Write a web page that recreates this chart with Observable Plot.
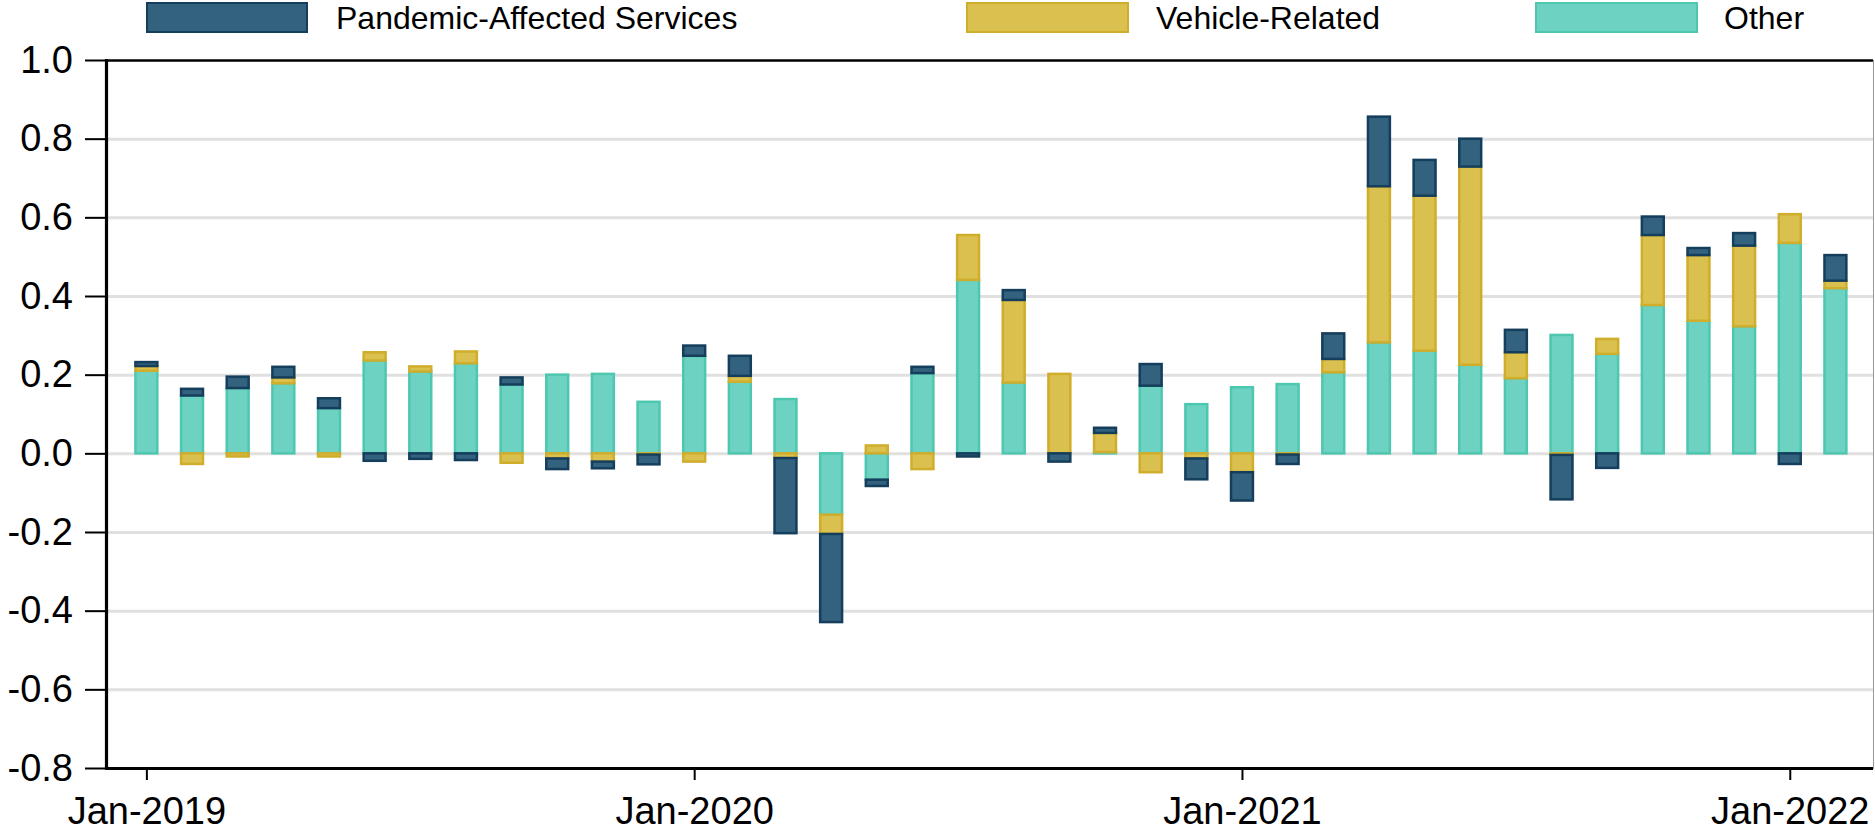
<!DOCTYPE html>
<html>
<head>
<meta charset="utf-8">
<script src="https://cdn.jsdelivr.net/npm/d3@7"></script>
<script src="https://cdn.jsdelivr.net/npm/@observablehq/plot@0.6"></script>
<style>
  html, body { margin: 0; padding: 0; background: #fff; }
  #wrap { position: relative; width: 1875px; height: 829px; font-family: "Liberation Sans", Arial, sans-serif; }
  #legend { position: relative; width: 1875px; height: 40px; }
  .sw { position: absolute; top: 2px; height: 31px; box-sizing: border-box; border: 2.5px solid; }
  .lt { position: absolute; top: 2px; font-size: 32px; line-height: 32px; color: #000; white-space: nowrap; }
  #chart svg { display: block; }
</style>
</head>
<body>
<div id="wrap">
  <div id="legend"></div>
  <div id="chart"></div>
</div>
<script>
const months = [
  "Jan-2019","Feb-2019","Mar-2019","Apr-2019","May-2019","Jun-2019","Jul-2019","Aug-2019","Sep-2019","Oct-2019","Nov-2019","Dec-2019",
  "Jan-2020","Feb-2020","Mar-2020","Apr-2020","May-2020","Jun-2020","Jul-2020","Aug-2020","Sep-2020","Oct-2020","Nov-2020","Dec-2020",
  "Jan-2021","Feb-2021","Mar-2021","Apr-2021","May-2021","Jun-2021","Jul-2021","Aug-2021","Sep-2021","Oct-2021","Nov-2021","Dec-2021",
  "Jan-2022","Feb-2022"
];
const other = [
  0.210, 0.147, 0.166, 0.178, 0.115, 0.236, 0.208, 0.229, 0.175, 0.200, 0.202, 0.131,
  0.248, 0.182, 0.138, -0.156, -0.067, 0.204, 0.441, 0.180, 0.000, 0.003, 0.172, 0.125,
  0.168, 0.176, 0.206, 0.282, 0.261, 0.225, 0.191, 0.301, 0.253, 0.377, 0.337, 0.323,
  0.535, 0.420
];
const vehicle = [
  0.012, -0.027, -0.008, 0.015, -0.008, 0.021, 0.013, 0.030, -0.024, -0.013, -0.021, -0.003,
  -0.021, 0.015, -0.012, -0.049, 0.020, -0.040, 0.114, 0.210, 0.202, 0.049, -0.048, -0.013,
  -0.048, -0.003, 0.034, 0.397, 0.394, 0.504, 0.066, -0.004, 0.038, 0.178, 0.167, 0.205,
  0.073, 0.019
];
const pandemic = [
  0.010, 0.017, 0.029, 0.027, 0.025, -0.019, -0.014, -0.017, 0.018, -0.027, -0.017, -0.025,
  0.026, 0.051, -0.191, -0.224, -0.016, 0.016, -0.008, 0.025, -0.021, 0.013, 0.055, -0.053,
  -0.072, -0.024, 0.065, 0.177, 0.091, 0.071, 0.057, -0.113, -0.037, 0.047, 0.018, 0.032,
  -0.027, 0.065
];
const seriesNames = ["Other", "Vehicle-Related", "Pandemic-Affected Services"];
const legendOrder = ["Pandemic-Affected Services", "Vehicle-Related", "Other"];
const fills = {"Pandemic-Affected Services": "#33627f", "Vehicle-Related": "#dac04f", "Other": "#6dd2c1"};
const strokes = {"Pandemic-Affected Services": "#143e5c", "Vehicle-Related": "#d0ad2a", "Other": "#4ec7b1"};
const xTicks = ["Jan-2019", "Jan-2020", "Jan-2021", "Jan-2022"];
const yTicks = [-0.8, -0.6, -0.4, -0.2, 0.0, 0.2, 0.4, 0.6, 0.8, 1.0];
const gridTicks = [-0.6, -0.4, -0.2, 0.0, 0.2, 0.4, 0.6, 0.8];

const seriesValues = {"Other": other, "Vehicle-Related": vehicle, "Pandemic-Affected Services": pandemic};
const rows = [];
months.forEach((m, i) => {
  for (const s of seriesNames) rows.push({month: m, series: s, value: seriesValues[s][i]});
});

// legend
const legendPos = {
  "Pandemic-Affected Services": {sw: 146, w: 162, tx: 336},
  "Vehicle-Related": {sw: 966, w: 163, tx: 1156},
  "Other": {sw: 1535, w: 163, tx: 1724}
};
const legend = document.getElementById("legend");
for (const s of legendOrder) {
  const p = legendPos[s];
  const sw = document.createElement("div");
  sw.className = "sw";
  sw.style.left = p.sw + "px";
  sw.style.width = p.w + "px";
  sw.style.background = fills[s];
  sw.style.borderColor = strokes[s];
  legend.appendChild(sw);
  const t = document.createElement("div");
  t.className = "lt";
  t.style.left = p.tx + "px";
  t.textContent = s;
  legend.appendChild(t);
}

const chart = Plot.plot({
  width: 1875,
  height: 789,
  marginTop: 20,
  marginBottom: 61,
  marginLeft: 106,
  marginRight: 2,
  style: {fontFamily: "'Liberation Sans', Arial, sans-serif", fontSize: "38px", background: "#fff", overflow: "visible", color: "#000"},
  x: {type: "band", domain: months, paddingInner: 0.52, paddingOuter: 0.614, align: 0.525, round: false},
  y: {domain: [-0.8, 1.0]},
  color: {type: "identity"},
  marks: [
    Plot.ruleY(gridTicks, {stroke: "#e0e0e0", strokeWidth: 3}),
    Plot.barY(rows, {
      x: "month", y: "value", z: "series", order: seriesNames,
      fill: d => fills[d.series], stroke: d => strokes[d.series],
      strokeWidth: 2.5, inset: 0
    }),
    Plot.ruleY([1.0], {stroke: "#000", strokeWidth: 2.7}),
    Plot.ruleY([-0.8], {stroke: "#000", strokeWidth: 3.2}),
    Plot.frame({anchor: "right", stroke: "#9a9a9a", strokeWidth: 1}),
    Plot.frame({anchor: "left", stroke: "#000", strokeWidth: 3.2}),
    Plot.axisY({ticks: yTicks, tickFormat: d => d.toFixed(1), tickSize: 21, tickPadding: 12.5, strokeWidth: 2, fontSize: 38, label: null}),
    Plot.axisX({ticks: xTicks, tickSize: 12, tickPadding: 17, strokeWidth: 2, fontSize: 38, label: null})
  ]
});
document.getElementById("chart").appendChild(chart);
</script>
</body>
</html>
